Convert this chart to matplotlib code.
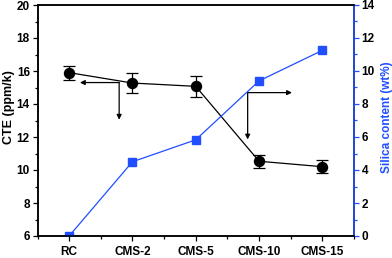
"""CTE and silica content of RC and CMS samples."""

import matplotlib

matplotlib.use("Agg")
import matplotlib.pyplot as plt
from matplotlib.ticker import MultipleLocator

plt.rcParams["font.family"] = ["Liberation Sans", "DejaVu Sans"]
plt.rcParams["font.weight"] = "bold"

samples = ["RC", "CMS-2", "CMS-5", "CMS-10", "CMS-15"]
cte = [15.9, 15.27, 15.07, 10.53, 10.2]
cte_err = [0.42, 0.58, 0.62, 0.38, 0.38]
silica = [0.0, 4.5, 5.83, 9.4, 11.25]

BLUE = "#1f4fff"

fig = plt.figure(figsize=(3.92, 2.58), dpi=100)
ax = fig.add_axes([37.5 / 392, 22 / 258, 316.5 / 392, 231 / 258])
ax2 = ax.twinx()

x = list(range(1, len(samples) + 1))

ax.errorbar(x, cte, yerr=cte_err, color="black", marker="o", markersize=7.2,
            linewidth=0.9, elinewidth=0.9, capsize=4, capthick=0.9, zorder=3)
ax2.plot(x, silica, color=BLUE, marker="s", markersize=6, linewidth=0.9,
         zorder=2)

# arrows pointing to the matching axis
arrow = dict(arrowstyle="-|>", color="black", lw=0.9, mutation_scale=7,
             shrinkA=0, shrinkB=0)
ax.annotate("", xy=(1.17, 15.3), xytext=(1.79, 15.3), arrowprops=arrow)
ax.annotate("", xy=(1.79, 13.05), xytext=(1.79, 15.3), arrowprops=arrow)
ax.annotate("", xy=(4.52, 14.69), xytext=(3.82, 14.69), arrowprops=arrow)
ax.annotate("", xy=(3.82, 11.85), xytext=(3.82, 14.69), arrowprops=arrow)

ax.set_xlim(0.5, 5.5)
ax.set_ylim(6, 20)
ax2.set_ylim(0, 14)
ax.set_xticks(x)
ax.set_xticklabels(samples)
ax.xaxis.set_minor_locator(MultipleLocator(0.5))
ax.yaxis.set_major_locator(MultipleLocator(2))
ax.yaxis.set_minor_locator(MultipleLocator(1))
ax2.yaxis.set_major_locator(MultipleLocator(2))
ax2.yaxis.set_minor_locator(MultipleLocator(1))

ax.set_ylabel("CTE (ppm/k)", fontsize=9, fontweight="bold")
ax2.set_ylabel("Silica content (wt%)", fontsize=8.5, fontweight="bold",
               color=BLUE)
ax.yaxis.set_label_coords(-0.07, 0.558)
ax2.yaxis.set_label_coords(1.085, 0.515)

for a in (ax, ax2):
    a.tick_params(which="both", direction="out", labelsize=8.5, width=0.9)
    a.tick_params(which="major", length=3.5, pad=2)
    a.tick_params(which="minor", length=2)
    for s in a.spines.values():
        s.set_linewidth(1.1)
ax.tick_params(axis="x", pad=4)
ax2.spines["right"].set_color(BLUE)
ax2.tick_params(axis="y", which="both", color=BLUE)
for lbl in ax.get_xticklabels() + ax.get_yticklabels() + ax2.get_yticklabels():
    lbl.set_fontweight("bold")

fig.savefig("out.png", dpi=100)
